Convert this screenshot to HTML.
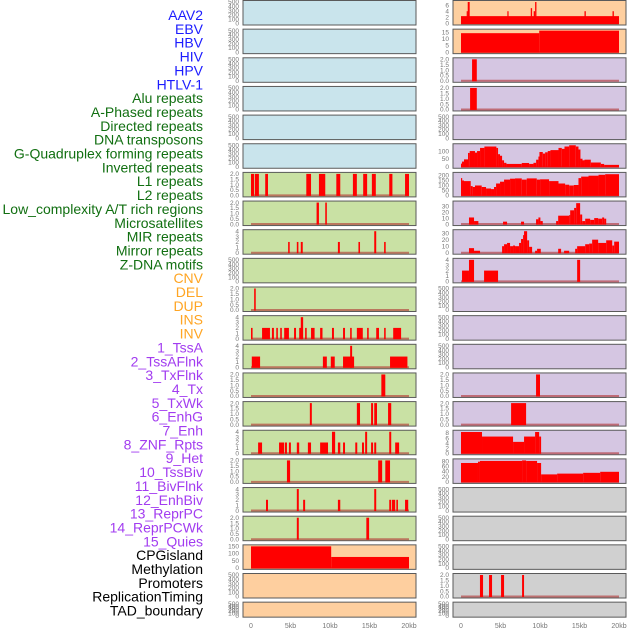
<!DOCTYPE html>
<html><head><meta charset="utf-8"><style>
html,body{margin:0;padding:0;background:#fff;width:630px;height:630px;overflow:hidden}
svg{display:block}
</style></head><body>
<svg id="chart" width="630" height="630" xmlns="http://www.w3.org/2000/svg"></svg>
<script>
// ---- labels ----
const labelNames = ["AAV2","EBV","HBV","HIV","HPV","HTLV-1","Alu repeats","A-Phased repeats","Directed repeats","DNA transposons","G-Quadruplex forming repeats","Inverted repeats","L1 repeats","L2 repeats","Low_complexity A/T rich regions","Microsatellites","MIR repeats","Mirror repeats","Z-DNA motifs","CNV","DEL","DUP","INS","INV","1_TssA","2_TssAFlnk","3_TxFlnk","4_Tx","5_TxWk","6_EnhG","7_Enh","8_ZNF_Rpts","9_Het","10_TssBiv","11_BivFlnk","12_EnhBiv","13_ReprPC","14_ReprPCWk","15_Quies","CPGisland","Methylation","Promoters","ReplicationTiming","TAD_boundary"];
const labelGroups = ["v","v","v","v","v","v","r","r","r","r","r","r","r","r","r","r","r","r","r","s","s","s","s","s","c","c","c","c","c","c","c","c","c","c","c","c","c","c","c","o","o","o","o","o"];
// x-axis
const xTicks = [0,5,10,15,20];
const xTickLabels = ["0","5kb","10kb","15kb","20kb"];

// ---- left column data [startKb, endKb, value] ----
const leftRow6 = [[0,0.4,2],[0.5,1.0,2],[1.8,2.15,2],[7.0,7.6,2],[8.6,9.4,2],[10.8,11.3,2],[12.9,13.4,2],[14.2,14.7,2],[15.3,15.8,2],[17.5,17.9,2],[19.5,20,2]];
const leftRow7 = [[8.3,8.6,2],[9.4,9.6,2]];
const leftRow8 = [[4.7,4.9,2],[5.8,6.0,2],[6.3,6.55,2],[11.0,11.25,2],[13.6,13.8,2],[15.6,15.85,4],[16.85,17.05,2]];
const leftRow10 = [[0.4,0.6,2]];
const leftRow11 = [[0,0.2,2],[1.4,2.4,2],[2.65,2.9,2],[3.2,3.4,2],[3.7,3.9,2],[4.2,4.8,2],[5.45,5.7,2],[6.1,6.5,2],[6.3,6.6,4],[6.85,7.05,2],[7.6,8.05,2],[8.75,9.05,2],[10.25,10.5,2],[11.65,11.9,2],[12.55,12.75,2],[13.4,14.15,2],[14.7,14.9,2],[15.85,16.2,2],[16.85,17.05,2],[18.0,19.0,2]];
const leftRow12 = [[0.1,1.15,2],[9.1,9.6,2],[10.1,10.6,2],[11.65,13.05,2],[12.55,12.8,4],[17.6,19.8,2]];
const leftRow13 = [[16.5,17.0,2]];
const leftRow14 = [[7.45,7.7,2],[13.4,13.8,2],[15.2,15.45,2],[15.6,15.95,2],[17.35,17.75,2]];
const leftRow15 = [[0.9,1.4,2],[3.55,4.2,2],[4.3,4.55,2],[4.8,5.05,2],[5.8,6.1,2],[7.2,7.6,2],[8.75,9.75,2],[10.25,10.65,4],[11.0,11.3,2],[11.65,11.9,2],[13.2,13.45,2],[14.05,14.3,2],[14.45,14.7,4],[15.2,15.45,2],[15.6,15.85,2],[17.5,17.75,4],[18.25,18.75,2]];
const leftRow16 = [[4.55,4.95,2],[16.1,16.6,2],[17.0,17.6,2]];
const leftRow17 = [[1.9,2.15,2],[5.8,6.05,4],[6.6,6.85,2],[11.0,11.3,2],[15.6,15.85,4],[17.5,17.75,2],[17.85,18.25,2],[18.4,18.6,2],[19.5,19.9,2]];
const leftRow18 = [[5.8,6.05,2],[14.6,14.95,2]];
const leftRow19 = [[0,10.15,150],[10.15,20,76]];

// ---- right column data ----
const rightRow0 = [[0,20,2.4],[0.72,0.85,4],[0.85,1.1,7],[5.87,6.0,4],[8.83,9.0,5],[9.2,9.38,4],[9.38,9.55,7],[15.63,15.8,4],[19.18,19.35,4]];
const rightRow1 = [[0,9.9,14.3],[9.9,20,16.2]];
const rightRow2 = [[1.4,2.0,2]];
const rightRow3 = [[1.15,2.0,2]];
const rightRow5 = [[0,0.13,20],[0.13,0.38,33],[0.38,0.89,47],[0.89,1.1,88],[1.1,1.77,100],[1.77,2.03,90],[2.03,2.41,100],[2.41,2.96,120],[2.96,4.48,129],[4.48,4.69,120],[4.69,4.94,80],[4.94,5.2,70],[5.2,5.45,41],[5.45,5.75,25],[5.75,7.69,18],[7.69,8.62,24],[8.62,9.17,18],[9.17,9.51,25],[9.51,9.8,45],[9.8,9.93,65],[9.93,10.35,94],[10.35,10.65,84],[10.65,10.98,92],[10.98,11.32,100],[11.32,12.34,106],[12.34,12.76,120],[12.76,13.1,114],[13.1,13.69,129],[13.69,14.53,139],[14.53,14.87,129],[14.87,15.12,110],[15.12,15.38,51],[15.38,15.63,41],[15.63,16.43,45],[16.43,17.7,27],[17.7,18.12,18],[18.12,20,12]];
const rightRow6 = [[0,0.13,173],[0.13,0.38,149],[0.38,1.23,143],[1.23,1.48,93],[1.48,1.77,84],[1.77,2.62,99],[2.62,3.17,84],[3.17,3.8,69],[3.8,4.18,63],[4.18,4.44,84],[4.44,4.94,119],[4.94,5.45,137],[5.45,6.21,158],[6.21,6.84,167],[6.84,7.69,170],[7.69,8.32,158],[8.32,9.59,170],[9.59,10.01,158],[10.01,11.15,161],[11.15,12.34,143],[12.34,13.18,119],[13.18,13.69,107],[13.69,14.28,99],[14.28,14.87,104],[14.87,15.21,173],[15.21,16.14,188],[16.14,17.41,197],[17.41,18.25,206],[18.25,20,212]];
const rightRow7 = [[1.01,1.65,11],[1.65,2.2,5],[5.32,5.83,4],[7.6,7.98,4],[9.5,9.8,8],[9.8,10.05,11],[10.05,10.35,5],[12.04,12.3,5],[12.3,13.69,14],[13.69,13.82,15],[13.82,14.32,23],[14.32,14.58,27],[14.58,15.08,35],[15.08,15.34,16],[15.34,15.72,5],[15.72,16.35,9],[16.35,16.86,7],[16.86,17.36,10],[17.36,17.87,9],[17.87,18.12,11],[18.12,18.38,9]];
const rightRow8 = [[1.01,1.65,7],[1.65,2.41,3],[5.2,5.45,10],[5.45,5.83,13],[5.83,6.21,15],[6.21,6.59,10],[6.59,6.84,11],[6.84,7.35,10],[7.35,7.6,15],[7.6,7.86,21],[7.86,7.98,27],[7.98,8.37,33],[8.37,8.62,19],[8.62,9.0,9],[9.38,9.63,3],[9.63,10.1,6],[12.3,12.67,6],[13.05,13.69,3],[14.45,14.7,6],[14.7,15.72,10],[15.72,16.22,13],[16.22,16.6,14],[16.6,17.36,20],[17.36,18.38,15],[18.38,19.14,19],[19.14,19.39,11],[19.39,20,17]];
const rightRow9 = [[0.13,1.01,2],[1.01,1.65,4],[2.92,4.69,2],[14.7,15.08,4]];
const rightRow13 = [[9.5,10.0,2]];
const rightRow14 = [[6.34,8.24,2]];
const rightRow15 = [[0,2.66,8.4],[2.66,6.59,6.6],[6.59,7.98,4.5],[7.98,9.38,6.6],[9.38,9.89,8.4],[9.89,10.14,6.6]];
const rightRow16 = [[0,2.15,73],[2.15,2.4,78],[2.4,7.73,81],[7.73,8.24,85],[8.24,9.63,81],[9.63,10.14,73],[10.14,12.17,29],[12.17,15.46,32],[15.46,17.62,35],[17.62,20,39]];
const rightRow20 = [[2.4,2.79,2],[3.55,3.93,2],[5.07,5.45,2],[7.73,7.98,2]];

// ---- ticks per scale ----
const ticksEmpty = [0,100,200,300,400,500];
const ticks2 = [0,0.5,1,1.5,2];
const ticks4 = [0,1,2,3,4];

const C = {b:"#c9e4ec", g:"#c9e1a4", o:"#fecf9f", p:"#d5c6e2", n:"#d0d0d0"};
// row definitions: [leftColor, leftData, leftTicks, leftMax, rightColor, rightData, rightTicks, rightMax]
const rows = [
 ["b",null,ticksEmpty,500,"o",rightRow0,[0,2,4,6],7],
 ["b",null,ticksEmpty,500,"o",rightRow1,[0,5,10,15],16.2],
 ["b",null,ticksEmpty,500,"p",rightRow2,ticks2,2],
 ["b",null,ticksEmpty,500,"p",rightRow3,ticks2,2],
 ["b",null,ticksEmpty,500,"p",null,ticksEmpty,500],
 ["b",null,ticksEmpty,500,"p",rightRow5,[0,50,100],137],
 ["g",leftRow6,ticks2,2,"p",rightRow6,[0,50,100,150,200],215],
 ["g",leftRow7,ticks2,2,"p",rightRow7,[0,10,20,30],36],
 ["g",leftRow8,ticks4,4,"p",rightRow8,[0,10,20,30],33],
 ["g",null,ticksEmpty,500,"p",rightRow9,ticks4,4],
 ["g",leftRow10,ticks2,2,"p",null,ticksEmpty,500],
 ["g",leftRow11,ticks4,4,"p",null,ticksEmpty,500],
 ["g",leftRow12,ticks4,4,"p",null,ticksEmpty,500],
 ["g",leftRow13,ticks2,2,"p",rightRow13,ticks2,2],
 ["g",leftRow14,ticks2,2,"p",rightRow14,ticks2,2],
 ["g",leftRow15,ticks4,4,"p",rightRow15,[0,2,4,6,8],8.5],
 ["g",leftRow16,ticks2,2,"p",rightRow16,[0,20,40,60,80],83],
 ["g",leftRow17,ticks4,4,"n",null,ticksEmpty,500],
 ["g",leftRow18,ticks2,2,"n",null,ticksEmpty,500],
 ["o",leftRow19,[0,50,100,150],150,"n",null,ticksEmpty,500],
 ["o",null,ticksEmpty,500,"n",rightRow20,ticks2,2],
 ["o",null,ticksEmpty,500,"n",null,ticksEmpty,500]
];

const NS="http://www.w3.org/2000/svg";
const svg=document.getElementById('chart');
function mk(tag,attrs,parent){const e=document.createElementNS(NS,tag);for(const k in attrs)e.setAttribute(k,attrs[k]);(parent||svg).appendChild(e);return e;}

// labels
const groupColor={v:"#1c1cff",r:"#116f11",s:"#ffa523",c:"#a23cf0",o:"#000000"};
labelNames.forEach((name,i)=>{
  const t=mk('text',{x:203,y:15+i*13.85+5,'text-anchor':'end','font-family':'Liberation Sans, sans-serif','font-size':'14',fill:groupColor[labelGroups[i]]});
  t.textContent=name;
  
  
});

const cols=[{px0:243,px1:416,x0:251,x1:409,tickX:239},{px0:453,px1:626,x0:461,x1:619,tickX:449}];
function xScale(col,kb){return col.x0+(kb/20)*(col.x1-col.x0);}

rows.forEach((r,i)=>{
  const top=0.5+28.65*i;
  const h=(i===21)?15:24.5;
  [0,1].forEach(ci=>{
    const col=cols[ci];
    const color=r[ci*4], data=r[ci*4+1], ticks=r[ci*4+2], ymax=r[ci*4+3];
    const g=mk('g',{});
    
    
    mk('rect',{x:col.px0,y:top,width:col.px1-col.px0,height:h,fill:C[color],stroke:'#5a5a5a','stroke-width':1},g);
    const yb=top+h-1.5, yt=top+1.5;
    const yS=v=>yb-(Math.min(v,ymax)/ymax)*(yb-yt);
    ticks.forEach(tv=>{
      const t=mk('text',{x:col.tickX,y:yS(tv)+2.2,'text-anchor':'end','font-family':'Liberation Sans, sans-serif','font-size':'6.5',fill:'#777'},g);
      t.textContent=(ticks===ticks2)?tv.toFixed(1):String(tv);
      
      
    });
    if(data){
      mk('line',{x1:xScale(col,0),x2:xScale(col,20),y1:yb,y2:yb,stroke:'#b03030','stroke-width':2,'stroke-opacity':0.6},g);
      data.forEach(d=>{
        const x1=xScale(col,d[0]), x2=xScale(col,d[1]);
        const yv=yS(d[2]);
        const b=mk('rect',{x:x1,y:yv,width:Math.max(1.2,x2-x1),height:yb-yv+0.5,fill:'#ff0000'},g);
        
        
      });
    }
  });
});

// x axis labels
[0,1].forEach(ci=>{
  const col=cols[ci];
  xTicks.forEach((v,k)=>{
    const t=mk('text',{x:xScale(col,v),y:628,'text-anchor':'middle','font-family':'Liberation Sans, sans-serif','font-size':'7',fill:'#777'});
    t.textContent=xTickLabels[k];
    
    
  });
});
</script>
</body></html>
